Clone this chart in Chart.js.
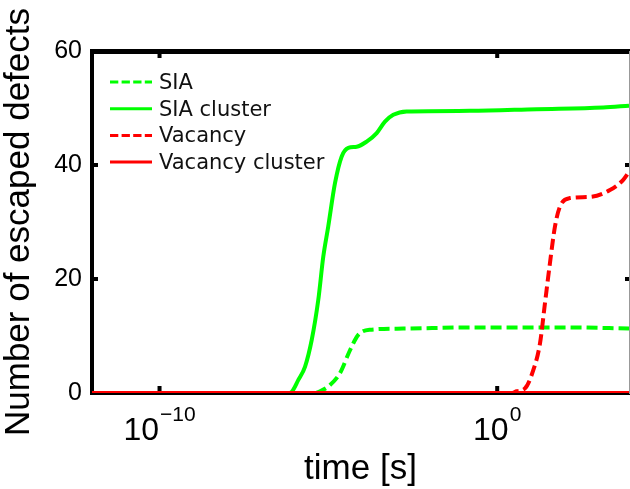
<!DOCTYPE html>
<html><head><meta charset="utf-8">
<script src="https://cdn.jsdelivr.net/npm/chart.js@4"></script>
<style>html,body{margin:0;padding:0;background:#fff}canvas{display:block}</style>
</head><body>
<canvas id="c" width="630" height="489"></canvas>
<script>
// ---- data ----
const seriesNames = ['SIA', 'SIA cluster', 'Vacancy', 'Vacancy cluster'];
const siaTime = [1e-12, 4.0e-6, 5.65e-6, 1.12e-5, 2.21e-5, 4.37e-5, 7.69e-5, 1.71e-4, 1.65e-3, 0.156, 143, 8000];
const siaCount = [0, 0, 0.3, 1.4, 3.5, 7.5, 10.2, 11.1, 11.3, 11.5, 11.5, 11.3];
const siaClusterTime = [1e-12, 6.5e-7, 8.2e-7, 1.29e-6, 2.03e-6, 3.21e-6, 5.02e-6, 7.06e-6, 9.9e-6, 1.57e-5, 2.48e-5, 3.89e-5, 6.89e-5, 1.36e-4, 2.70e-4, 4.74e-4, 8.36e-4, 2.08e-3, 0.156, 14.7, 1380, 8000];
const siaClusterCount = [0, 0, 0.2, 2.3, 4.6, 9.3, 16.3, 23.9, 29.2, 36.8, 41.5, 43.0, 43.2, 44.1, 45.6, 47.6, 48.8, 49.4, 49.5, 49.8, 50.1, 50.4];
const vacancyTime = [1e-12, 2.8, 3.77, 6.64, 11.7, 18.5, 25.9, 36.5, 51.3, 72.1, 143, 558, 2180, 5400, 8000];
const vacancyCount = [0, 0, 0.3, 0.8, 4.0, 8.7, 15.7, 22.8, 29.2, 32.7, 34.2, 34.4, 35.6, 37.4, 38.8];
const vacancyClusterTime = [1e-12, 8000];
const vacancyClusterCount = [0, 0];
const xTickValues = [1e-10, 1];
const xTickExponents = ['\u221210', '0'];
const yTickValues = [0, 20, 40, 60];
const xMin = 1e-12, xMax = 8000, yMin = 0, yMax = 60;

const GREEN = '#00ff00', RED = '#ff0000';
const FONT = 'Liberation Sans';
Chart.defaults.font.family = FONT;
Chart.defaults.color = '#000';

function pts(xs, ys) { return xs.map((x, i) => ({ x: x, y: ys[i] })); }

const datasets = [
  { label: seriesNames[0], data: pts(siaTime, siaCount), borderColor: GREEN, borderDash: [11, 5], order: 3 },
  { label: seriesNames[1], data: pts(siaClusterTime, siaClusterCount), borderColor: GREEN, borderDash: [], order: 2 },
  { label: seriesNames[2], data: pts(vacancyTime, vacancyCount), borderColor: RED, borderDash: [11, 5], order: 1 },
  { label: seriesNames[3], data: pts(vacancyClusterTime, vacancyClusterCount), borderColor: RED, borderDash: [], order: 0 }
].map(d => Object.assign(d, { borderWidth: 4, pointRadius: 0, fill: false, cubicInterpolationMode: 'monotone', xAxisID: 'x', yAxisID: 'y' }));

const noGrid = { drawOnChartArea: false, drawTicks: false };

const bgPlugin = {
  id: 'bg',
  beforeDraw(chart) {
    const c = chart.ctx; c.save(); c.fillStyle = '#fff'; c.fillRect(0, 0, chart.width, chart.height); c.restore();
  }
};

// small inward tick marks on all four sides, placed by the scales
const tickMarkPlugin = {
  id: 'tickMarks',
  afterDraw(chart) {
    const c = chart.ctx, a = chart.chartArea;
    c.save(); c.fillStyle = '#000';
    chart.scales.x.ticks.forEach(t => {
      const px = chart.scales.x.getPixelForValue(t.value);
      c.fillRect(px - 2, a.bottom - 7, 4, 5);
      c.fillRect(px - 2, a.top + 2, 4, 5);
    });
    chart.scales.y.ticks.forEach(t => {
      if (t.value === yMin || t.value === yMax) return;
      const py = chart.scales.y.getPixelForValue(t.value);
      c.fillRect(a.left + 1, py - 2, 5, 4);
      c.fillRect(a.right - 4, py - 2, 4, 4);
    });
    c.restore();
  }
};

const xTickLabelPlugin = {
  id: 'xTickLabels',
  afterDraw(chart) {
    const sc = chart.scales.x, c = chart.ctx;
    c.save();
    c.fillStyle = '#000'; c.textBaseline = 'alphabetic'; c.textAlign = 'left';
    sc.ticks.forEach(t => {
      const i = xTickValues.indexOf(t.value);
      if (i < 0) return;
      const px = sc.getPixelForValue(t.value);
      const base = '10', exp = xTickExponents[i];
      c.font = '32px "' + FONT + '"'; const wb = c.measureText(base).width;
      c.font = '21px "' + FONT + '"'; const we = c.measureText(exp).width;
      const x0 = px - (wb + we + 1) / 2;
      const y = chart.chartArea.bottom + 47;
      c.font = '32px "' + FONT + '"'; c.fillText(base, x0, y);
      c.font = '21px "' + FONT + '"'; c.fillText(exp, x0 + wb + 1, y - 19);
    });
    c.restore();
  }
};

const legendPlugin = {
  id: 'insideLegend',
  afterDraw(chart) {
    const c = chart.ctx, a = chart.chartArea;
    c.save();
    chart.data.datasets.forEach((d, i) => {
      const y = a.top + 31 + i * 26.7;
      c.strokeStyle = d.borderColor; c.lineWidth = 3;
      c.setLineDash(d.borderDash && d.borderDash.length ? [8.3, 3.3] : []);
      c.beginPath(); c.moveTo(a.left + 18, y); c.lineTo(a.left + 60, y); c.stroke();
      c.setLineDash([]);
      c.fillStyle = '#111'; c.font = '21px "DejaVu Sans"'; c.textBaseline = 'alphabetic'; c.textAlign = 'left';
      c.fillText(d.label, a.left + 67, y + 7);
    });
    c.restore();
  }
};

new Chart(document.getElementById('c'), {
  type: 'line',
  data: { datasets: datasets },
  plugins: [bgPlugin, tickMarkPlugin, xTickLabelPlugin, legendPlugin],
  options: {
    responsive: false, animation: false, devicePixelRatio: 1,
    layout: { padding: 0 },
    plugins: { legend: { display: false }, tooltip: { enabled: false } },
    scales: {
      x: {
        type: 'logarithmic', position: 'bottom', min: xMin, max: xMax,
        afterBuildTicks: s => { s.ticks = xTickValues.map(v => ({ value: v })); },
        ticks: { display: false },
        grid: noGrid,
        border: { display: true, color: '#000', width: 4 },
        title: { display: true, text: 'time [s]', color: '#000', font: { family: FONT, size: 35, lineHeight: 1.1 }, padding: 0 },
        afterFit: s => { s.height = 96; }
      },
      x2: {
        type: 'logarithmic', position: 'top', min: xMin, max: xMax,
        ticks: { display: false },
        grid: noGrid,
        border: { display: true, color: '#000', width: 5 },
        afterFit: s => { s.height = 51; }
      },
      y: {
        type: 'linear', position: 'left', min: yMin, max: yMax,
        afterBuildTicks: s => { s.ticks = yTickValues.map(v => ({ value: v })); },
        ticks: { color: '#000', font: { family: FONT, size: 25 }, padding: 10 },
        grid: noGrid,
        border: { display: true, color: '#000', width: 4 },
        title: { display: true, text: 'Number of escaped defects', color: '#000', font: { family: FONT, size: 35, lineHeight: 1.1 }, padding: 0 },
        afterFit: s => { s.width = 92; }
      },
      y2: {
        type: 'linear', position: 'right', min: yMin, max: yMax,
        ticks: { display: false },
        grid: noGrid,
        border: { display: true, color: '#999', width: 1 },
        afterFit: s => { s.width = 1; }
      }
    }
  }
});
</script>
</body></html>
